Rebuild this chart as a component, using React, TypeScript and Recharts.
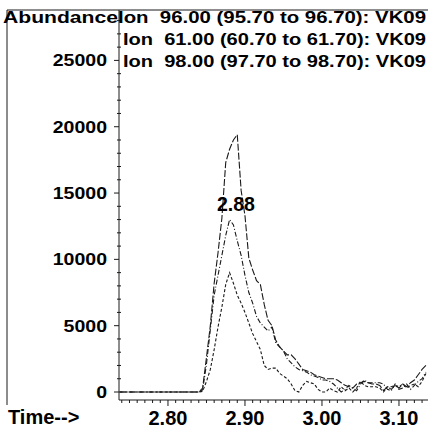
import React from 'react';
import { LineChart, Line, XAxis, YAxis } from 'recharts';

// retention time (min)
const times = [
  2.737, 2.84, 2.845, 2.85, 2.855, 2.86, 2.865, 2.87, 2.875, 2.88, 2.885, 2.89,
  2.895, 2.9, 2.905, 2.91, 2.915, 2.92, 2.925, 2.93, 2.935, 2.94, 2.945, 2.95,
  2.955, 2.96, 2.965, 2.97, 2.975, 2.98, 2.985, 2.99, 2.995, 3.0,
  3.005, 3.01, 3.015, 3.02, 3.025, 3.03, 3.035, 3.04, 3.045, 3.05, 3.055, 3.06,
  3.065, 3.07, 3.075, 3.08, 3.085, 3.09, 3.095, 3.1, 3.105, 3.11, 3.115, 3.12,
  3.125, 3.13, 3.135,
];

// Ion 96.00
const ion96 = [
  0, 0, 300, 2600, 5000, 8200, 10500, 13100, 17300, 18300, 19000, 19400,
  15200, 13300, 10100, 9200, 8400, 8100, 6600, 5400, 5000, 3900, 3400, 3100,
  2800, 2800, 2500, 2100, 1700, 1600, 1500, 1300, 1200, 1100,
  1000, 1000, 1000, 900, 700, 500, 400, 300, 600, 700, 800, 700,
  600, 600, 500, 100, 400, 200, 500, 300, 600, 400, 700, 900,
  1300, 1700, 2000,
];

// Ion 61.00
const ion61 = [
  0, 0, 150, 2100, 4700, 7300, 8800, 10300, 11800, 13000, 12600, 11400,
  10300, 8800, 7500, 6700, 5700, 5200, 4900, 4600, 4900, 3700, 3400, 3100,
  2500, 2200, 1900, 1700, 1600, 1500, 1300, 1200, 1100, 900,
  900, 800, 600, 300, 0, 200, 500, 300, 100, 600, 900, 700,
  700, 700, 700, 600, 200, 100, 600, 200, 300, 600, 200, 500,
  800, 1000, 1500,
];

// Ion 98.00
const ion98 = [
  0, 0, 50, 800, 1700, 3200, 4900, 6400, 8100, 9000, 8200, 7300,
  6700, 6000, 5200, 4400, 3800, 3200, 2000, 1700, 1800, 1800, 1400, 1200,
  1000, 600, 100, 0, 500, 800, 700, 600, 200, 0,
  0, 300, 100, 0, 400, 100, 300, 0, 300, 800, 500, 400,
  400, 400, 300, 0, 400, 400, 500, 400, 600, 300, 500, 600,
  400, 800, 1400,
];

const xTicks = Array.from({ length: 40 }, (_, i) => (274 + i) / 100);
const yTicks = Array.from({ length: 29 }, (_, i) => i * 1000);
const ionLabels = [
  'Ion  96.00 (95.70 to 96.70): VK09',
  'Ion  61.00 (60.70 to 61.70): VK09',
  'Ion  98.00 (97.70 to 98.70): VK09',
];

const data = times.map((t, i) => ({ t, a: ion96[i], b: ion61[i], c: ion98[i] }));

const FONT = '"Liberation Sans", Arial, sans-serif';
const INK = '#1a1a1a';

const YTick = (props: any) => {
  const { x, y, payload } = props;
  const v = payload.value;
  const major = v % 5000 === 0;
  return (
    <g>
      {major ? (
        <line x1={x - 5} x2={x} y1={y} y2={y} stroke={INK} />
      ) : (
        <line x1={x - 2} x2={x + 2} y1={y} y2={y} stroke={INK} />
      )}
      {major && (
        <text
          transform={`translate(${x - 12},${y + 6}) scale(1.22,1)`}
          textAnchor="end"
          fontSize={16}
          fontWeight="bold"
          fontFamily={FONT}
          fill="#000"
        >
          {v}
        </text>
      )}
    </g>
  );
};

const XTick = (props: any) => {
  const { x, y, payload } = props;
  const v = payload.value;
  const major = Math.abs(v * 10 - Math.round(v * 10)) < 1e-6;
  return (
    <g>
      <line x1={x} x2={x} y1={y} y2={y + (major ? 6 : 3)} stroke={INK} />
      {major && (
        <text x={x} y={y + 25} textAnchor="middle" fontSize={20} fontWeight="bold" fontFamily={FONT} fill="#000">
          {v.toFixed(2)}
        </text>
      )}
    </g>
  );
};

const T = ({ x, y, w, children }: any) => (
  <text
    x={x}
    y={y}
    textLength={w}
    lengthAdjust="spacingAndGlyphs"
    fontSize={16}
    fontWeight="bold"
    fontFamily={FONT}
    fill="#000"
    style={{ whiteSpace: 'pre' }}
  >
    {children}
  </text>
);

export default function App() {
  return (
    <div style={{ position: 'relative', width: 428, height: 433, overflow: 'hidden', background: '#fff' }}>
      <style>{'body{margin:0}'}</style>
      <LineChart width={428} height={433} data={data} margin={{ top: 10, right: 0, bottom: 0, left: 0 }}>
        <XAxis
          dataKey="t"
          type="number"
          domain={[2.7364, 3.1377]}
          allowDataOverflow
          ticks={xTicks}
          interval={0}
          height={33}
          tickSize={0}
          tickMargin={0}
          tickLine={false}
          tick={XTick}
          axisLine={{ stroke: INK }}
        />
        <YAxis
          type="number"
          domain={[-603, 28800]}
          allowDataOverflow
          ticks={yTicks}
          interval={0}
          width={119}
          tickSize={0}
          tickMargin={0}
          tickLine={false}
          tick={YTick}
          axisLine={{ stroke: INK }}
        />
        <Line dataKey="a" type="linear" stroke={INK} strokeWidth={1.1} strokeDasharray="7 2" dot={false} isAnimationActive={false} />
        <Line dataKey="b" type="linear" stroke={INK} strokeWidth={1.1} strokeDasharray="5 2 1 2" dot={false} isAnimationActive={false} />
        <Line dataKey="c" type="linear" stroke={INK} strokeWidth={1.1} strokeDasharray="3 2" dot={false} isAnimationActive={false} />
      </LineChart>
      <svg width={428} height={433} style={{ position: 'absolute', left: 0, top: 0, pointerEvents: 'none' }}>
        <line x1={7} x2={7} y1={10} y2={405} stroke={INK} />
        <line x1={7} x2={428} y1={10} y2={10} stroke={INK} />
        <T x={3} y={23} w={115}>Abundance</T>
        {ionLabels.map((s, i) => (
          <T key={i} x={i === 0 ? 118 : 123} y={23 + i * 22} w={i === 0 ? 308 : 303}>
            {s}
          </T>
        ))}
        <text x={8} y={424} fontSize={20} fontWeight="bold" fontFamily={FONT} fill="#000">Time--&gt;</text>
        <text x={236} y={211} textAnchor="middle" fontSize={19.5} fontWeight="bold" fontFamily={FONT} fill="#000">2.88</text>
      </svg>
    </div>
  );
}
